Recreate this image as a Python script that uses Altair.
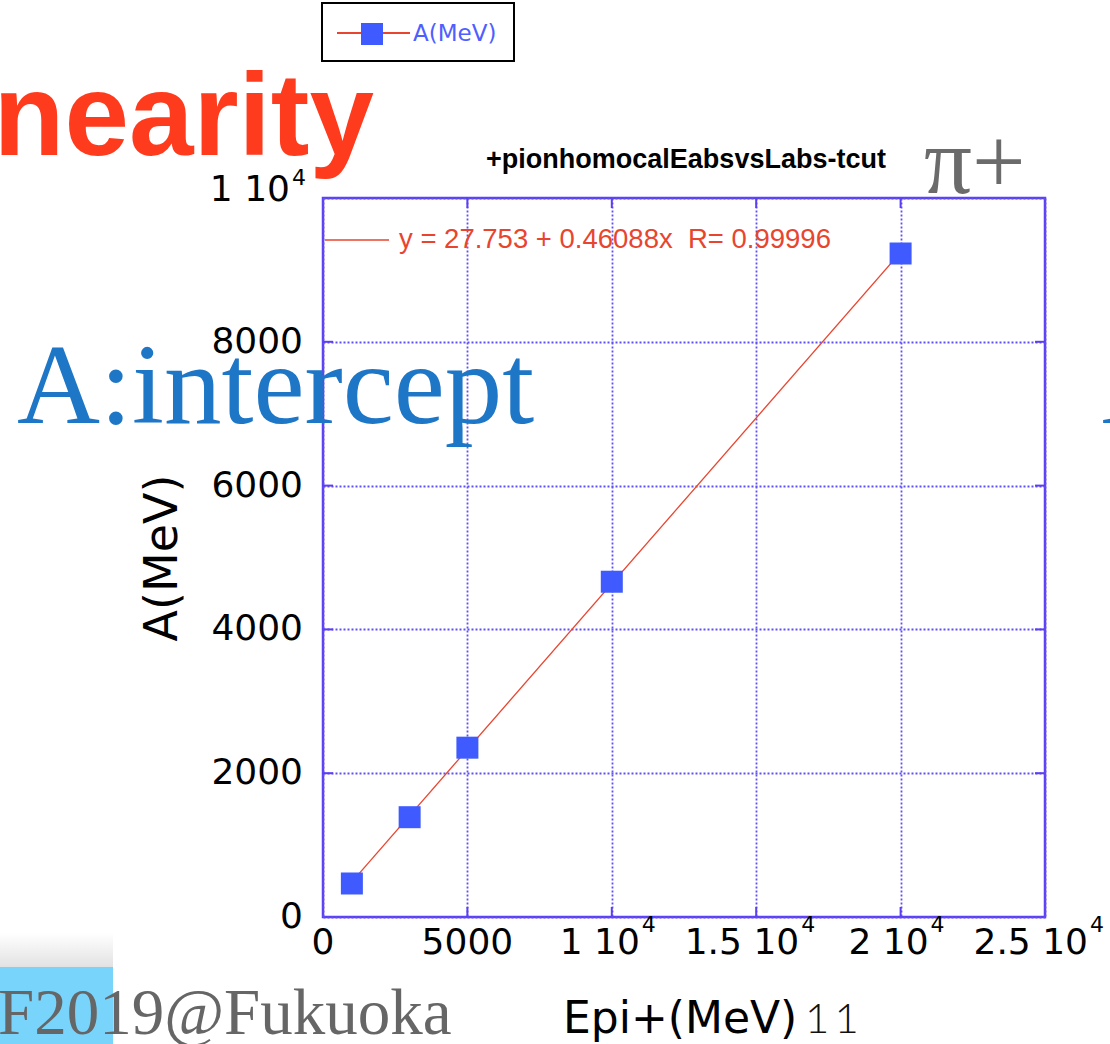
import altair as alt
import pandas as pd

# Measured points: beam energy (MeV) vs. fitted parameter A (MeV)
energy = [1000, 3000, 5000, 10000, 20000]
a_mev = [466, 1388, 2355, 4663, 9228]

# Linear fit reported by the analysis
fit_intercept = 27.753
fit_slope = 0.46088
fit_r = 0.99996
fit_range = [1000, 20000]

# Tick labels written as mantissa + power-of-ten exponent
x_ticks = [0, 5000, 10000, 15000, 20000, 25000]
x_tick_main = ["0", "5000", "1 10", "1.5 10", "2 10", "2.5 10"]
x_tick_exp = ["", "", "4", "4", "4", "4"]
y_ticks = [0, 2000, 4000, 6000, 8000, 10000]
y_tick_main = ["0", "2000", "4000", "6000", "8000", "1 10"]
y_tick_exp = ["", "", "", "", "", "4"]

plot_title = "+pionhomocalEabsvsLabs-tcut"
series_name = "A(MeV)"
x_title = "Epi+(MeV)"
y_title = "A(MeV)"

W, H = 722, 719
FRAME = "#5c3ff2"
GRID = "#5f50f6"
BLUE = "#3f5bff"
RED = "#e8452f"
TICK_FONT = "DejaVu Sans"
TICK_SIZE = 36
EXP_SIZE = 22

x_scale = alt.Scale(domain=[0, 25000], nice=False, zero=False)
y_scale = alt.Scale(domain=[0, 10000], nice=False, zero=False)

grid_axis = dict(title=None, domain=False, ticks=False, tickSize=0, labels=False,
                 grid=True, gridColor=GRID, gridDash=[2, 2], gridWidth=1.8,
                 gridOpacity=1)
x_axis = alt.Axis(values=x_ticks, **grid_axis)
y_axis = alt.Axis(values=y_ticks, **grid_axis)

pts = pd.DataFrame({"E": energy, "A": a_mev})
fit = pd.DataFrame({"E": fit_range,
                    "A": [fit_intercept + fit_slope * e for e in fit_range]})

base_axes = alt.Chart(pts).mark_point(opacity=0).encode(
    x=alt.X("E:Q", scale=x_scale, axis=x_axis),
    y=alt.Y("A:Q", scale=y_scale, axis=y_axis),
)

fit_line = alt.Chart(fit).mark_line(color=RED, strokeWidth=1.3).encode(
    x=alt.X("E:Q", scale=x_scale), y=alt.Y("A:Q", scale=y_scale)
)

squares = alt.Chart(pts).mark_point(
    shape="square", filled=True, size=484, color=BLUE, opacity=1
).encode(x=alt.X("E:Q", scale=x_scale), y=alt.Y("A:Q", scale=y_scale))

# inward tick marks on all four sides
xt = pd.DataFrame({"v": x_ticks[1:-1]})
yt = pd.DataFrame({"v": y_ticks[1:-1]})
tick_style = dict(color=FRAME, strokeWidth=2)
ticks_bottom = alt.Chart(xt).mark_rule(**tick_style).encode(
    x=alt.X("v:Q", scale=x_scale), y=alt.value(H), y2=alt.value(H - 10))
ticks_top = alt.Chart(xt).mark_rule(**tick_style).encode(
    x=alt.X("v:Q", scale=x_scale), y=alt.value(0), y2=alt.value(10))
ticks_left = alt.Chart(yt).mark_rule(**tick_style).encode(
    y=alt.Y("v:Q", scale=y_scale), x=alt.value(0), x2=alt.value(10))
ticks_right = alt.Chart(yt).mark_rule(**tick_style).encode(
    y=alt.Y("v:Q", scale=y_scale), x=alt.value(W), x2=alt.value(W - 10))

# tick labels: plain numbers, and "mantissa 10^exp" labels with a raised exponent
xl = pd.DataFrame({"v": x_ticks, "m": x_tick_main, "e": x_tick_exp})
yl = pd.DataFrame({"v": y_ticks, "m": y_tick_main, "e": y_tick_exp})
txt = dict(font=TICK_FONT, color="black", baseline="middle")

x_plain = alt.Chart(xl[xl.e == ""]).mark_text(align="center", fontSize=TICK_SIZE, **txt).encode(
    x=alt.X("v:Q", scale=x_scale), y=alt.value(H + 26), text="m:N")
x_exp_parts = []
for short, dx in [(True, 28), (False, 43)]:
    sub = xl[(xl.e != "") & ((xl.m.str.len() <= 4) == short)]
    x_exp_parts.append(alt.Chart(sub).mark_text(align="right", dx=dx, fontSize=TICK_SIZE, **txt).encode(
        x=alt.X("v:Q", scale=x_scale), y=alt.value(H + 26), text="m:N"))
    x_exp_parts.append(alt.Chart(sub).mark_text(align="left", dx=dx + 2, fontSize=EXP_SIZE, **txt).encode(
        x=alt.X("v:Q", scale=x_scale), y=alt.value(H + 8), text="e:N"))

y_plain = alt.Chart(yl[yl.e == ""]).mark_text(align="right", fontSize=TICK_SIZE, **txt).encode(
    y=alt.Y("v:Q", scale=y_scale), x=alt.value(-20), text="m:N")
y_exp_main = alt.Chart(yl[yl.e != ""]).mark_text(align="right", dy=-8, fontSize=TICK_SIZE, **txt).encode(
    y=alt.Y("v:Q", scale=y_scale), x=alt.value(-33), text="m:N")
y_exp_sup = alt.Chart(yl[yl.e != ""]).mark_text(align="left", dy=-20, fontSize=EXP_SIZE, **txt).encode(
    y=alt.Y("v:Q", scale=y_scale), x=alt.value(-31), text="e:N")


def label(text, x, y, **kw):
    return alt.Chart(pd.DataFrame({"t": [text]})).mark_text(**kw).encode(
        text="t:N", x=alt.value(x), y=alt.value(y))


one = pd.DataFrame({"a": [0]})

# legend box
legend_box = alt.Chart(one).mark_rect(fill="white", stroke="black", strokeWidth=2).encode(
    x=alt.value(-1), x2=alt.value(191), y=alt.value(-195), y2=alt.value(-137))
legend_line = alt.Chart(one).mark_rule(color=RED, strokeWidth=2).encode(
    x=alt.value(14), x2=alt.value(87), y=alt.value(-165))
legend_sq = alt.Chart(one).mark_point(shape="square", filled=True, size=484,
                                      color=BLUE, opacity=1).encode(
    x=alt.value(49), y=alt.value(-164))
legend_txt = label(series_name, 90, -164, align="left", baseline="middle",
                   font="DejaVu Sans", fontSize=23, color="#4f5fff")

title_txt = label(plot_title, 363, -38, align="center", baseline="middle",
                  font="Liberation Sans", fontSize=27, fontWeight="bold", color="black")

# fit annotation inside the frame
eq_line = alt.Chart(one).mark_rule(color=RED, strokeWidth=1.5).encode(
    x=alt.value(2), x2=alt.value(66), y=alt.value(42))
eq_txt = label(f"y = {fit_intercept} + {fit_slope}x\u00a0\u00a0R= {fit_r}", 76, 42,
               align="left", baseline="middle", font="Liberation Sans",
               fontSize=27.5, color=RED)

y_title_txt = label(y_title, -160, 360, align="center", baseline="middle", angle=270,
                    font="DejaVu Sans", fontSize=46, color="black")
x_title_txt = label(x_title, 240, 822, align="left", baseline="middle",
                    font="DejaVu Sans", fontSize=44, color="black")
page_txt = label("1\u20091", 482, 822, align="left", baseline="middle",
                 font="Lato", fontWeight=300, fontSize=42, color="#111111")

# slide text around the plot
heading = label("nearity", 51, -43, align="right", baseline="alphabetic",
                font="Liberation Sans", fontWeight="bold", fontSize=116, color="#ff3b1d")
intercept_txt = label("A:intercept", -306, 225, align="left", baseline="alphabetic",
                      font="Liberation Serif", fontSize=115, color="#1e76c6")
edge_txt = label("A:", 779, 225, align="left", baseline="alphabetic",
                 font="Liberation Serif", fontSize=115, color="#1e76c6")
pion_txt = label("\u03c0+", 601, -5, align="left", baseline="alphabetic",
                 font="Liberation Serif", fontSize=95, color="#6b6b6b")

shade = alt.Chart(one).mark_rect(
    color=alt.Gradient(gradient="linear", x1=0, y1=0, x2=0, y2=1,
                       stops=[alt.GradientStop(color="#ffffff", offset=0),
                              alt.GradientStop(color="#e2e2e2", offset=1)])
).encode(x=alt.value(-323), x2=alt.value(-210), y=alt.value(735), y2=alt.value(769))
badge = alt.Chart(one).mark_rect(color="#78d4fb").encode(
    x=alt.value(-323), x2=alt.value(-210), y=alt.value(769), y2=alt.value(846))
footer = label("F2019@Fukuoka", -325, 836, align="left", baseline="alphabetic",
               font="Liberation Serif", fontSize=65, color="#666666")

chart = alt.layer(
    base_axes, ticks_bottom, ticks_top, ticks_left, ticks_right,
    x_plain, *x_exp_parts, y_plain, y_exp_main, y_exp_sup,
    fit_line, squares, eq_line, eq_txt,
    legend_box, legend_line, legend_sq, legend_txt, title_txt,
    y_title_txt, x_title_txt, page_txt,
    heading, intercept_txt, edge_txt, pion_txt, shade, badge, footer,
).properties(
    width=W, height=H,
    autosize=alt.AutoSizeParams(type="none"),
    padding={"left": 323, "top": 198, "right": 65, "bottom": 127},
    background="white",
).configure_view(stroke=FRAME, strokeWidth=2.5)

chart.save("out.html", embed_options={"renderer": "svg", "actions": False})
